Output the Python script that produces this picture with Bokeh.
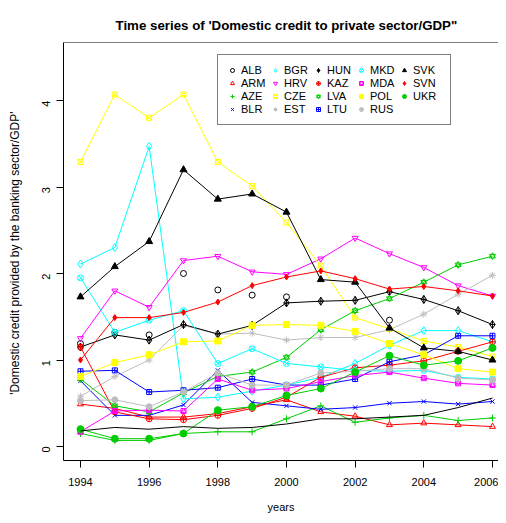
import math
from bokeh.plotting import figure
from bokeh.models import Range1d, FixedTicker, Legend, LegendItem, Span
from bokeh.embed import file_html
from bokeh.resources import INLINE

nan = float("nan")
years = list(range(1994, 2007))
x_ticks = [1994, 1996, 1998, 2000, 2002, 2004, 2006]
y_ticks = [0, 1, 2, 3, 4]

alb = [1.19, 1.32, 1.29, 2.00, 1.81, 1.75, 1.73, nan, nan, 1.46, nan, nan, nan]
arm = [0.49, 0.44, 0.34, 0.34, 0.38, 0.46, 0.54, 0.40, 0.35, 0.25, 0.27, 0.25, 0.23]
aze = [0.15, 0.07, 0.07, 0.15, 0.17, 0.17, 0.32, 0.47, 0.28, 0.33, 0.36, 0.30, 0.33]
blr = [0.76, 0.36, 0.36, 0.48, 0.88, 0.51, 0.47, 0.43, 0.45, 0.50, 0.52, 0.49, 0.52]
bgr = [2.11, 2.30, 3.47, 0.55, 0.57, 0.64, 0.71, 0.80, 0.96, 1.17, 1.34, 1.34, 1.21]
hrv = [1.25, 1.80, 1.61, 2.15, 2.20, 2.02, 1.99, 2.17, 2.41, 2.23, 2.07, 1.86, 1.74]
cze = [3.29, 4.07, 3.80, 4.07, 3.29, 3.01, 2.59, 2.09, 1.49, 1.36, 1.22, 1.15, 1.04]
est = [0.58, 0.81, 1.00, 1.40, 1.30, 1.31, 1.23, 1.26, 1.26, 1.35, 1.53, 1.76, 1.98]
hun = [1.15, 1.29, 1.23, 1.41, 1.30, 1.40, 1.66, 1.68, 1.69, 1.79, 1.70, 1.57, 1.41]
kaz = [1.15, 0.40, 0.32, 0.31, 0.36, 0.44, 0.57, 0.80, 0.91, 0.94, 0.99, 1.10, 1.21]
lva = [0.78, 0.47, 0.40, 0.62, 0.81, 0.86, 1.03, 1.35, 1.57, 1.71, 1.90, 2.10, 2.20]
ltu = [0.87, 0.88, 0.63, 0.65, 0.68, 0.78, 0.71, 0.71, 0.78, 0.98, 1.06, 1.28, 1.28]
mkd = [1.95, 1.32, 1.46, 1.57, 0.96, 1.13, 0.96, 0.92, 0.88, 0.87, 0.88, 0.80, 0.78]
mda = [0.17, 0.41, 0.42, 0.41, 0.78, 0.65, 0.67, 0.75, 0.82, 0.86, 0.79, 0.73, 0.71]
pol = [0.81, 0.97, 1.06, 1.21, 1.22, 1.40, 1.41, 1.40, 1.33, 1.19, 1.06, 0.90, 0.86]
rus = [0.53, 0.54, 0.46, 0.63, 0.85, 0.71, 0.71, 0.85, 0.87, 0.90, 0.90, 0.79, 0.77]
svk = [1.73, 2.08, 2.37, 3.20, 2.86, 2.92, 2.71, 1.93, 1.90, 1.37, 1.14, 1.10, 1.00]
svn = [1.00, 1.49, 1.49, 1.55, 1.67, 1.86, 1.96, 2.03, 1.94, 1.82, 1.85, 1.80, 1.74]
ukr = [0.20, 0.09, 0.09, 0.15, 0.42, 0.46, 0.59, 0.67, 0.86, 1.05, 0.94, 0.99, 1.14]
# unlabeled black line near the bottom (no markers)
black_line = [0.18, 0.22, 0.20, 0.23, 0.21, 0.22, 0.26, 0.32, 0.32, 0.34, 0.36, 0.45, 0.56]

BLACK, RED, GREEN, BLUE = "#000000", "#FF0000", "#00CD00", "#0000FF"
CYAN, MAGENTA, YELLOW, GRAY = "#00FFFF", "#FF00FF", "#FFFF00", "#BEBEBE"

# name, values, colour, list of (marker, filled, size), draw line
specs = [
    ("ALB", alb, BLACK, [("circle", False, 6)], False),
    ("ARM", arm, RED, [("triangle", False, 6)], True),
    ("AZE", aze, GREEN, [("cross", False, 7)], True),
    ("BLR", blr, BLUE, [("x", False, 6)], True),
    ("BGR", bgr, CYAN, [("diamond", False, 8)], True),
    ("HRV", hrv, MAGENTA, [("inverted_triangle", False, 6)], True),
    ("CZE", cze, YELLOW, [("square_x", False, 5)], True),
    ("EST", est, GRAY, [("asterisk", False, 7)], True),
    ("HUN", hun, BLACK, [("diamond_cross", False, 8)], True),
    ("KAZ", kaz, RED, [("circle_cross", False, 6)], True),
    ("LVA", lva, GREEN, [("triangle", False, 6), ("inverted_triangle", False, 6)], True),
    ("LTU", ltu, BLUE, [("square_cross", False, 5)], True),
    ("MKD", mkd, CYAN, [("circle_x", False, 6)], True),
    ("MDA", mda, MAGENTA, [("square", False, 5), ("triangle", False, 5)], True),
    ("POL", pol, YELLOW, [("square", True, 6)], True),
    ("RUS", rus, GRAY, [("circle", True, 6)], True),
    ("SVK", svk, BLACK, [("triangle", True, 7)], True),
    ("SVN", svn, RED, [("diamond", True, 6)], True),
    ("UKR", ukr, GREEN, [("circle", True, 7)], True),
]

FONT = "Liberation Sans"
X0, X1 = 1993.505, 2006.176
Y0, Y1 = -0.162, 4.671

p = figure(width=498, height=515, output_backend="svg", toolbar_location=None,
           x_range=Range1d(X0, X1), y_range=Range1d(Y0, Y1),
           min_border_left=63, min_border_right=0, min_border_top=42, min_border_bottom=55,
           background_fill_color="white", border_fill_color="white")
p.outline_line_color = None
p.grid.visible = False

p.title.text = "Time series of 'Domestic credit to private sector/GDP\""
p.title.align = "left"
p.title.offset = 52
p.title.text_font = FONT
p.title.text_font_size = "13.3px"
p.title.text_font_style = "bold"
p.title.text_color = "black"
p.title.vertical_align = "top"
p.title.standoff = 16

xa = p.xaxis[0]
ya = p.yaxis[0]
xa.ticker = FixedTicker(ticks=x_ticks)
ya.ticker = FixedTicker(ticks=y_ticks)
for ax in (xa, ya):
    ax.axis_line_color = "black"
    ax.axis_line_width = 1
    ax.major_tick_line_color = "black"
    ax.major_tick_out = 7
    ax.major_tick_in = 0
    ax.minor_tick_line_color = None
    ax.major_label_text_font = FONT
    ax.major_label_text_font_size = "11px"
    ax.major_label_text_color = "black"
    ax.axis_label_text_font = FONT
    ax.axis_label_text_font_size = "11px"
    ax.axis_label_text_font_style = "normal"
    ax.axis_label_text_color = "black"
xa.axis_label = "years"
xa.major_label_standoff = 10
xa.axis_label_standoff = 12
ya.axis_label = "'Domestic credit provided by the banking  sector/GDP'"
ya.axis_label_text_font_size = "12px"
ya.major_label_orientation = math.pi / 2
ya.major_label_standoff = 10
ya.axis_label_standoff = 14

# top edge of the box (the right edge falls outside the picture)
p.add_layout(Span(location=Y1, dimension="width", line_color="black", line_width=1))

items = []
for name, vals, col, marks, has_line in specs:
    if has_line:
        p.line(years, vals, line_color=col, line_width=1)
    rends = []
    for mk, filled, sz in marks:
        r = p.scatter(years, vals, marker=mk, size=sz, line_color=col, line_width=1,
                      fill_color=col if filled else None)
        rends.append(r)
    items.append(LegendItem(label=name, renderers=rends))

p.line(years, black_line, line_color=BLACK, line_width=1)

legend = Legend(items=items, location=(154, 335), nrows=4, orientation="vertical",
                border_line_color="black", border_line_width=1, background_fill_color="white",
                background_fill_alpha=1, label_text_font=FONT, label_text_font_size="11px",
                label_text_color="black", label_text_line_height=1.0,
                glyph_width=10, glyph_height=12, label_height=12, label_width=28,
                label_standoff=4, spacing=1, padding=9, margin=0)
p.add_layout(legend)

open("out.html", "w").write(file_html(p, INLINE))
